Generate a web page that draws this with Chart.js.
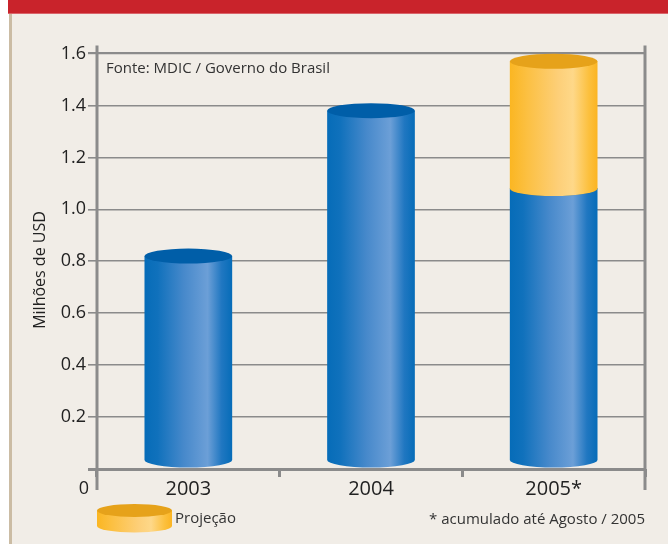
<!DOCTYPE html>
<html><head><meta charset="utf-8">
<script src="https://cdn.jsdelivr.net/npm/chart.js@4/dist/chart.umd.min.js"></script>
<style>
html,body{margin:0;padding:0;background:#fff;}
#wrap{position:relative;width:668px;height:544px;overflow:hidden;background:#fff;}
#band{position:absolute;left:8px;top:0;width:660px;height:14px;background:#c9232b;border-bottom:1px solid #d9646a;box-sizing:border-box;}
#panel{position:absolute;left:9px;top:14px;width:659px;height:530px;background:#f1ede7;border-left:3px solid #cbbca4;box-sizing:border-box;}
canvas{position:absolute;left:0;top:0;}
</style></head>
<body>
<div id="wrap">
  <div id="band"></div>
  <div id="panel"></div>
  <canvas id="c" width="668" height="544"></canvas>
</div>
<script>
const categories = ['2003', '2004', '2005*'];
const exportValues = [0.82, 1.38, 1.08];
const projectionValues = [null, null, 0.49];
const yTickValues = [0, 0.2, 0.4, 0.6, 0.8, 1.0, 1.2, 1.4, 1.6];
const yAxisTitle = 'Milhões de USD';
const sourceText = 'Fonte: MDIC / Governo do Brasil';
const footnoteText = '* acumulado até Agosto / 2005';
const legendText = 'Projeção';

const FONT = "'Open Sans', 'Liberation Sans', sans-serif";
const AXIS = '#8b8b8b';
const TEXT = '#222222';

const blueStops = [[0,'#066cb8'],[0.15,'#1071bc'],[0.45,'#4789cb'],[0.72,'#6c9fd7'],[0.88,'#2077c1'],[1,'#066cb8']];
const blueTop = '#005ea8';
const yellowStops = [[0,'#fbb622'],[0.2,'#fcc042'],[0.55,'#fdcf78'],[0.72,'#fed889'],[0.9,'#fcc03e'],[1,'#fbb422']];
const yellowTop = '#e6a21a';

function drawCylinder(ctx, cx, w, topY, botY, ry, stops, topColor) {
  const l = cx - w / 2, r = cx + w / 2;
  const g = ctx.createLinearGradient(l, 0, r, 0);
  stops.forEach(s => g.addColorStop(s[0], s[1]));
  ctx.fillStyle = g;
  ctx.beginPath();
  ctx.moveTo(l, topY);
  ctx.lineTo(l, botY);
  ctx.ellipse(cx, botY, w / 2, ry, 0, Math.PI, 0, true);
  ctx.lineTo(r, topY);
  ctx.closePath();
  ctx.fill();
  ctx.fillStyle = topColor;
  ctx.beginPath();
  ctx.ellipse(cx, topY, w / 2, ry, 0, 0, Math.PI * 2);
  ctx.fill();
}

const cylinderPlugin = {
  id: 'cylinders',
  beforeDatasetsDraw(chart) {
    const ctx = chart.ctx, a = chart.chartArea;
    ctx.save();
    ctx.strokeStyle = AXIS;
    ctx.lineWidth = 3;
    ctx.beginPath();
    ctx.moveTo(a.left, a.top - 8); ctx.lineTo(a.left, a.bottom + 21);
    ctx.moveTo(a.right, a.top - 8); ctx.lineTo(a.right, a.bottom + 21);
    ctx.stroke();
    ctx.restore();
  },
  afterDatasetsDraw(chart) {
    const ctx = chart.ctx;
    const ry = 7.5;
    ctx.save();
    chart.data.datasets.forEach((ds, di) => {
      const meta = chart.getDatasetMeta(di);
      meta.data.forEach((bar, i) => {
        const v = ds.data[i];
        if (v === null || v === undefined) return;
        const p = bar.getProps(['x', 'y', 'base', 'width'], true);
        const isBase = di === 0;
        const botY = isBase ? p.base - ry : p.base;
        drawCylinder(ctx, p.x, p.width, p.y, botY, ry,
          di === 0 ? blueStops : yellowStops, di === 0 ? blueTop : yellowTop);
      });
    });
    const a = chart.chartArea;
    const ys = chart.scales.y;
    ctx.fillStyle = TEXT;
    ctx.textBaseline = 'middle';
    ctx.font = '18px ' + FONT;
    ctx.textAlign = 'right';
    ctx.fillText('0', a.left - 8, ys.getPixelForValue(0) + 20);
    // y axis title
    ctx.save();
    ctx.translate(40, 270);
    ctx.rotate(-Math.PI / 2);
    ctx.textAlign = 'center';
    ctx.font = '16px ' + FONT;
    ctx.fillText(yAxisTitle, 0, 0);
    ctx.restore();
    ctx.font = '15px ' + FONT;
    ctx.fillStyle = '#333333';
    ctx.textAlign = 'left';
    ctx.fillText(sourceText, a.left + 9, ys.getPixelForValue(1.6) + 15);
    ctx.textAlign = 'right';
    ctx.fillText(footnoteText, a.right, 520);
    drawCylinder(ctx, 134.5, 75, 510.5, 526, 6.5, yellowStops, yellowTop);
    ctx.fillStyle = '#333333';
    ctx.textAlign = 'left';
    ctx.fillText(legendText, 175, 519);
    ctx.restore();
  }
};

new Chart(document.getElementById('c'), {
  type: 'bar',
  data: {
    labels: categories,
    datasets: [
      { label: 'Exportações', data: exportValues, backgroundColor: 'rgba(0,0,0,0)', stack: 's' },
      { label: legendText, data: projectionValues, backgroundColor: 'rgba(0,0,0,0)', stack: 's' }
    ]
  },
  options: {
    responsive: false,
    animation: false,
    events: [],
    categoryPercentage: 1,
    barPercentage: 0.48,
    layout: { padding: { top: 53.5, right: 23, left: 0, bottom: 0 } },
    plugins: { legend: { display: false }, tooltip: { enabled: false } },
    scales: {
      x: {
        stacked: true,
        afterFit(s) { s.height = 544 - 469; },
        grid: { offset: true, drawOnChartArea: false, tickLength: 8, color: AXIS, lineWidth: 3 },
        border: { display: false },
        ticks: { padding: 0, color: TEXT, font: { family: FONT, size: 20 } }
      },
      y: {
        stacked: true,
        min: 0, max: 1.6,
        afterFit(s) { s.width = 97; },
        afterBuildTicks(s) { s.ticks = yTickValues.map(v => ({ value: v })); },
        grid: {
          color: AXIS,
          lineWidth: c => (c.tick && c.tick.value === 0) ? 3 : ((c.tick && c.tick.value === 1.6) ? 2.2 : 1.6),
          tickLength: 9
        },
        border: { display: false },
        ticks: {
          padding: 2,
          color: TEXT,
          font: { family: FONT, size: 18 },
          callback: v => v === 0 ? '' : v.toFixed(1)
        },
        title: { display: false, text: yAxisTitle }
      }
    }
  },
  plugins: [cylinderPlugin]
});
</script>
</body></html>
